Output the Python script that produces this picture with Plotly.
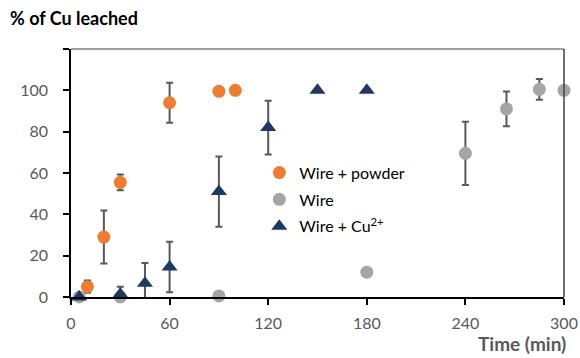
import plotly.graph_objects as go

# Wire + powder
wp_x = [10, 20, 30, 60, 90, 100]
wp_y = [5, 29, 55.5, 94, 99.5, 100]
wp_e = [3, 12.8, 3.8, 9.7, 0, 0]

# Wire
w_x = [5, 30, 90, 180, 240, 265, 285, 300]
w_y = [0, 0, 0.5, 12, 69.5, 91, 100.5, 100]
w_e = [1.5, 0, 0, 0, 15.3, 8.4, 5, 0]

# Wire + Cu2+
wc_x = [5, 30, 45, 60, 90, 120, 150, 180]
wc_y = [0, 1.3, 6.6, 14.5, 51, 82, 100, 100]
wc_e = [0, 3.7, 9.8, 12.2, 17, 13, 0, 0]

x_ticks = [0, 60, 120, 180, 240, 300]
y_ticks = [0, 20, 40, 60, 80, 100, 120]
y_ticktext = ["0", "20", "40", "60", "80", "100", ""]

FONT = "Lato"
err_style = dict(type="data", thickness=2, width=3.5, color="#595959")

fig = go.Figure()
fig.add_trace(go.Scatter(
    x=wp_x, y=wp_y, mode="markers", name="Wire + powder", legendgroup="a",
    marker=dict(symbol="circle", size=13, color="#ED7D31"),
    error_y=dict(array=wp_e, **err_style)))
fig.add_trace(go.Scatter(
    x=w_x, y=w_y, mode="markers", name="Wire", legendgroup="b",
    marker=dict(symbol="circle", size=13, color="#A5A5A5"),
    error_y=dict(array=w_e, **err_style)))
fig.add_trace(go.Scatter(
    x=wc_x, y=wc_y, mode="markers", name="Wire + Cu<sup>2+</sup>", legendgroup="c",
    marker=dict(symbol="triangle-up", size=14, color="#1F3864"),
    error_y=dict(array=wc_e, **err_style)))

fig.update_layout(
    width=580, height=358,
    margin=dict(l=71, r=16, t=49, b=61),
    plot_bgcolor="white", paper_bgcolor="white",
    font=dict(family=FONT, size=16, color="#595959"),
    showlegend=True,
    legend=dict(x=0.382, y=0.57, xanchor="left", yanchor="top",
                bgcolor="rgba(0,0,0,0)", font=dict(size=16, color="#000000"),
                itemsizing="trace", traceorder="grouped", tracegroupgap=3),
    xaxis=dict(range=[0, 300], tickvals=x_ticks, showgrid=False, zeroline=False,
               automargin=False,
               showline=True, linecolor="#000000", linewidth=1.5,
               ticks="outside", ticklen=6, tickcolor="#000000", tickwidth=1.5,
               ticklabelstandoff=5, tickfont=dict(size=16, color="#595959")),
    yaxis=dict(range=[0, 120], tickvals=y_ticks, ticktext=y_ticktext, showgrid=False,
               automargin=False,
               zeroline=False, showline=True, linecolor="#000000", linewidth=1.5,
               ticks="outside", ticklen=6, tickcolor="#000000", tickwidth=1.5,
               ticklabelstandoff=12, tickfont=dict(size=16, color="#595959")),
    annotations=[
        dict(text="<b>% of Cu leached</b>", xref="paper", yref="paper",
             x=-0.128, y=1.0, yshift=31, xanchor="left", yanchor="middle",
             showarrow=False, font=dict(size=18, color="#000000", family=FONT)),
        dict(text="<b>Time (min)</b>", xref="paper", yref="paper",
             x=1.0, y=0, xshift=4, yshift=-46, xanchor="right", yanchor="middle",
             showarrow=False, font=dict(size=19, color="#595959", family=FONT)),
    ],
    shapes=[
        dict(type="line", xref="paper", yref="paper", x0=0, x1=1, y0=1, y1=1,
             line=dict(color="#7F7F7F", width=1.5)),
        dict(type="line", xref="paper", yref="paper", x0=1, x1=1, y0=0, y1=1,
             line=dict(color="#404040", width=1.5)),
    ],
)
fig.update_traces(cliponaxis=False)

fig.write_html("out.html")
